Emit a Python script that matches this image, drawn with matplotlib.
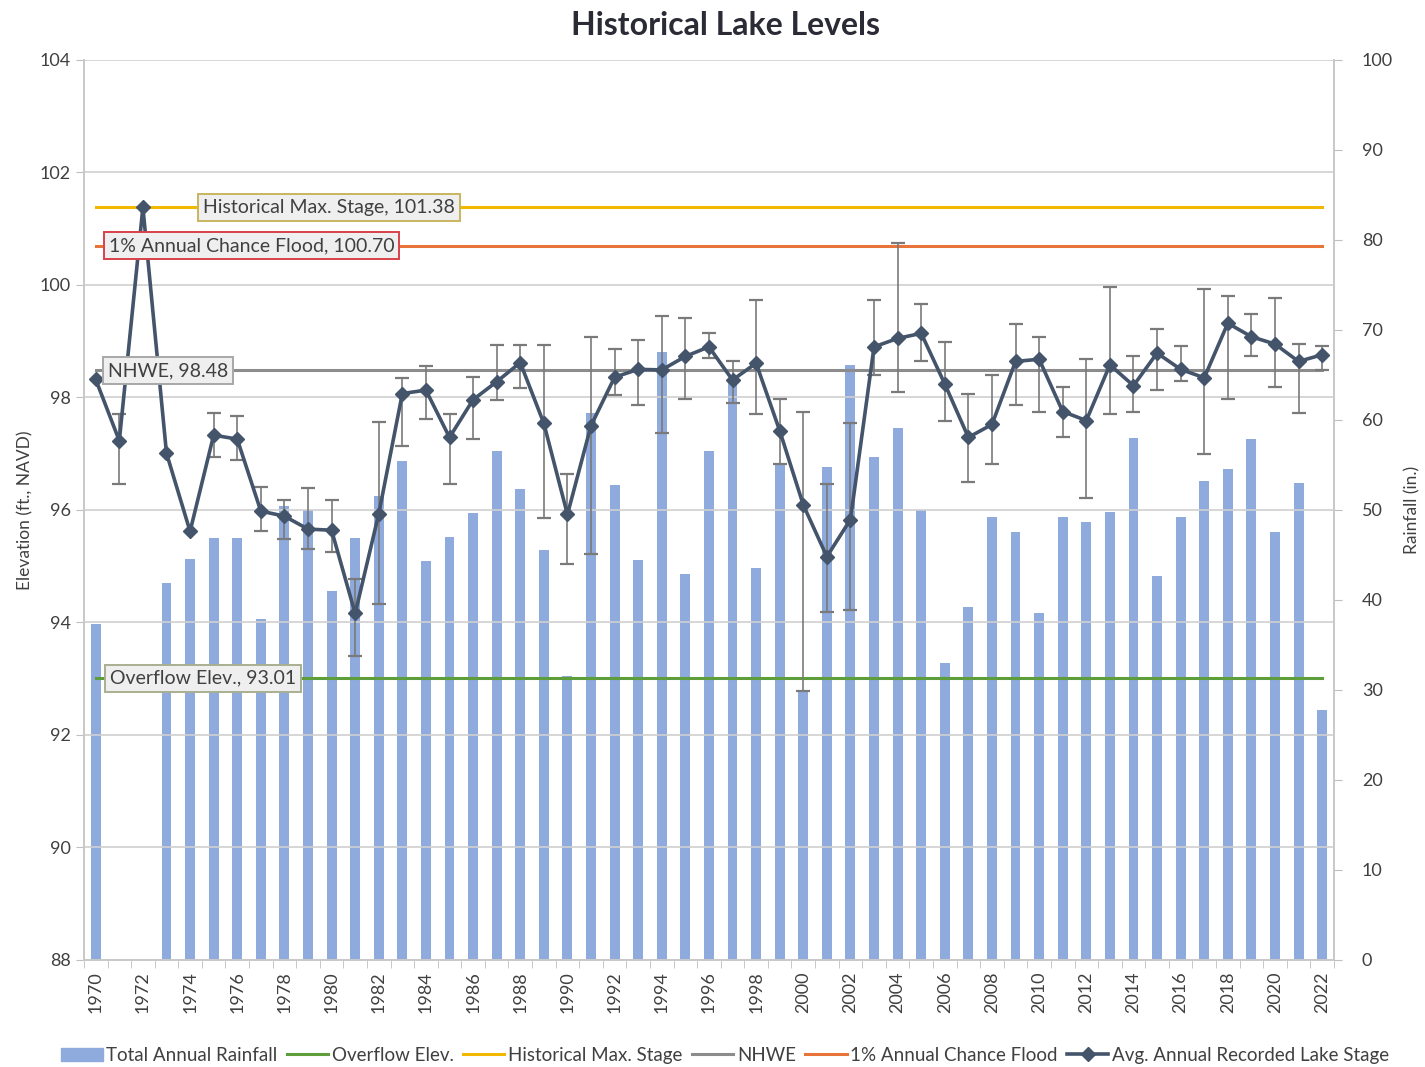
import numpy as np
import matplotlib
matplotlib.use("Agg")
import matplotlib.pyplot as plt
from matplotlib.patches import Patch
from matplotlib.lines import Line2D

plt.rcParams['font.family'] = ['Lato', 'DejaVu Sans']

# Veriler
years = list(range(1970, 2023))
rainfall = [37.3, 0, 0, 41.9, 44.5, 46.9, 46.9, 37.9, 50.4, 50.0,
            41.0, 46.9, 51.5, 55.4, 44.3, 47.0, 49.7, 56.6, 52.3, 45.5,
            31.6, 60.8, 52.8, 44.4, 67.6, 42.9, 56.5, 64.7, 43.6, 55.0,
            29.8, 54.8, 66.1, 55.9, 59.1, 50.0, 33.0, 39.2, 49.2, 47.6,
            38.5, 49.2, 48.7, 49.8, 58.0, 42.7, 49.2, 53.2, 54.6, 57.9,
            47.5, 53.0, 27.8]
stage = [98.32, 97.23, 101.38, 97.01, 95.62, 97.33, 97.26, 95.98, 95.89, 95.66,
         95.64, 94.16, 95.93, 98.07, 98.13, 97.29, 97.96, 98.28, 98.62, 97.54,
         95.92, 97.50, 98.36, 98.50, 98.49, 98.73, 98.90, 98.31, 98.61, 97.41,
         96.09, 95.17, 95.83, 98.90, 99.05, 99.14, 98.24, 97.29, 97.52, 98.64,
         98.68, 97.75, 97.59, 98.58, 98.21, 98.79, 98.50, 98.35, 99.32, 99.08,
         98.95, 98.64, 98.76]
stage_max = [np.nan, 97.71, np.nan, np.nan, np.nan, 97.72, 97.67, 96.40, 96.17, 96.39,
             96.17, 94.77, 97.57, 98.34, 98.56, 97.71, 98.36, 98.93, 98.93, 98.93,
             96.64, 99.07, 98.86, 99.02, 99.45, 99.41, 99.15, 98.64, 99.73, 97.97,
             97.75, 96.47, 97.54, 99.73, 100.74, 99.67, 98.99, 98.06, 98.40, 99.31,
             99.07, 98.18, 98.68, 99.97, 98.74, 99.22, 98.92, 99.93, 99.80, 99.48,
             99.76, 98.95, 98.92]
stage_min = [np.nan, 96.46, np.nan, np.nan, np.nan, 96.95, 96.89, 95.63, 95.48, 95.30,
             95.26, 93.40, 94.33, 97.14, 97.61, 96.47, 97.26, 97.96, 98.16, 95.86,
             95.04, 95.21, 98.04, 97.86, 97.36, 97.97, 98.71, 97.90, 97.71, 96.82,
             92.78, 94.19, 94.23, 98.40, 98.10, 98.65, 97.58, 96.50, 96.81, 97.86,
             97.75, 97.29, 96.22, 97.71, 97.75, 98.13, 98.29, 97.00, 97.97, 98.74,
             98.18, 97.72, 98.48]

overflow = 93.01
hist_max = 101.38
nhwe = 98.48
flood_1pct = 100.70

x = np.arange(len(years))
n = len(years)

fig = plt.figure(figsize=(14.25, 10.67), dpi=100)
ax = fig.add_axes([0.0589, 0.1003, 0.8772, 0.8435])
ax2 = ax.twinx()

# Yağış çubukları (sağ eksen)
ax2.bar(x, rainfall, width=0.42, color='#8FAADC', zorder=1)
ax2.set_ylim(0, 100)
ax2.set_yticks(range(0, 101, 10))

# Sol eksen çizgileri üstte dursun
ax.set_zorder(ax2.get_zorder() + 1)
ax.patch.set_visible(False)

ax.plot(x, [overflow] * n, color='#5E9E3A', lw=2.2, zorder=3)
ax.plot(x, [hist_max] * n, color='#F2B800', lw=2.2, zorder=3)
ax.plot(x, [nhwe] * n, color='#8C8C8C', lw=2.2, zorder=3)
ax.plot(x, [flood_1pct] * n, color='#E9743A', lw=2.2, zorder=3)

stage = np.array(stage)
smax = np.array(stage_max)
smin = np.array(stage_min)
ok = ~np.isnan(smax)
ax.errorbar(x[ok], stage[ok], yerr=[stage[ok] - smin[ok], smax[ok] - stage[ok]],
            fmt='none', ecolor='#7A7A7A', elinewidth=1.2, capsize=5, capthick=1.6, zorder=4)
ax.plot(x, stage, color='#44546A', lw=2.6, marker='D', markersize=7, zorder=5)

ax.set_ylim(88, 104)
ax.set_yticks(range(88, 105, 2))
ax.set_xlim(-0.5, n - 0.5)
ax.grid(axis='y', color='#D0D0D0', lw=1.2, zorder=0)

# Etiket kutuları
def etiket(xp, yp, txt, kenar):
    ax.text(xp, yp, txt, ha='center', va='center', fontsize=14, color='#404040', zorder=6,
            bbox=dict(boxstyle='square,pad=0.25', fc='#EFEFEF', ec=kenar, lw=1.4))

etiket(9.9, hist_max, 'Historical Max. Stage, 101.38', '#C8B560')
etiket(6.6, flood_1pct, '1% Annual Chance Flood, 100.70', '#D9414A')
etiket(3.05, nhwe, 'NHWE, 98.48', '#A8A8A8')
etiket(4.55, overflow, 'Overflow Elev., 93.01', '#A8B090')

# X ekseni
ax.set_xticks(x)
ax.set_xticklabels([str(y) if (y - 1970) % 2 == 0 else '' for y in years],
                   rotation=90, fontsize=13, color='#404040')
ax.set_xticks(np.arange(-0.5, n, 1), minor=True)
ax.tick_params(axis='x', which='major', length=0, pad=8)
ax.tick_params(axis='x', which='minor', length=6, color='#BFBFBF')
ax.tick_params(axis='y', length=6, color='#BFBFBF', labelsize=13, labelcolor='#404040')
ax2.tick_params(axis='y', length=6, color='#BFBFBF', labelsize=13, labelcolor='#404040', pad=14)

for a in (ax, ax2):
    a.spines['top'].set_visible(False)
    for s in ('left', 'right', 'bottom'):
        a.spines[s].set_color('#C8C8C8')
        a.spines[s].set_linewidth(1.2)

ax.set_ylabel('Elevation (ft., NAVD)', fontsize=12.5, color='#404040', labelpad=4)
ax2.set_ylabel('Rainfall (in.)', fontsize=12.5, color='#404040', rotation=90, labelpad=8)

fig.suptitle('Historical Lake Levels', fontsize=23, fontweight='bold', color='#2B2B36',
             x=0.509, y=0.99)

handles = [
    Patch(color='#8FAADC'),
    Line2D([], [], color='#5E9E3A', lw=2.2),
    Line2D([], [], color='#F2B800', lw=2.2),
    Line2D([], [], color='#8C8C8C', lw=2.2),
    Line2D([], [], color='#E9743A', lw=2.2),
    Line2D([], [], color='#44546A', lw=2.6, marker='D', markersize=7),
]
labels = ['Total Annual Rainfall', 'Overflow Elev.', 'Historical Max. Stage', 'NHWE',
          '1% Annual Chance Flood', 'Avg. Annual Recorded Lake Stage']
fig.legend(handles, labels, loc='center', bbox_to_anchor=(0.509, 0.011), ncol=6, frameon=False,
           fontsize=13.5, handlelength=2.2, handletextpad=0.2, columnspacing=0.5,
           labelcolor='#404040')

fig.savefig('out.png', dpi=100)
